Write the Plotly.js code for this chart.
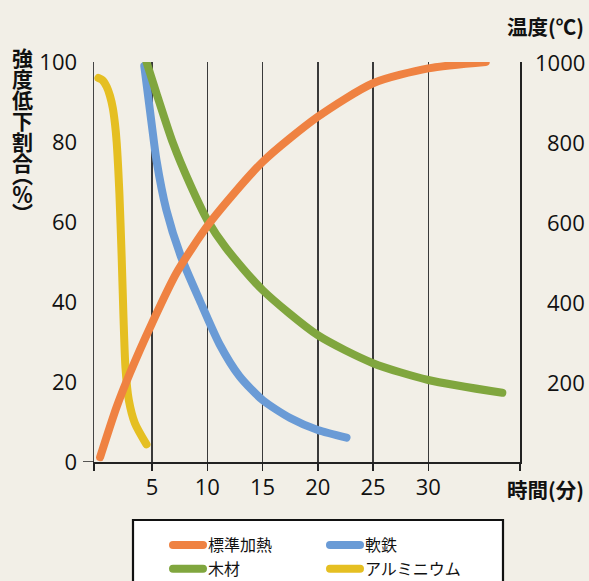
<!DOCTYPE html>
<html>
<head>
<meta charset="utf-8">
<script src="https://cdn.plot.ly/plotly-3.0.1.min.js"></script>
<style>
html,body{margin:0;padding:0;background:#f2efe7;}
#chart{width:589px;height:581px;}
.scatterlayer .js-line, .legend .js-line{stroke-linecap:round;stroke-linejoin:round;}
</style>
</head>
<body>
<div id="chart"></div>
<script>
// ---- data ----
const seriesNames = ['標準加熱', '軟鉄', '木材', 'アルミニウム'];

// 標準加熱 (temperature, ℃, right axis)
const tStd    = [0.3, 1.8, 3.0, 5.0, 7.2, 10.2, 15.0, 20.0, 25.0, 30.0, 35.2];
const tempStd = [12, 138, 222, 347, 472, 597, 750, 863, 947, 984, 1000];

// 軟鉄 (strength reduction %, left axis)
const tIron   = [4.3, 5.0, 5.4, 6.3, 7.6, 9.3, 11.1, 12.9, 15.0, 17.5, 20.0, 22.6];
const pctIron = [99, 83.8, 75.5, 63, 51.5, 40.5, 29.5, 21.5, 15.5, 11, 8, 6.1];

// 木材
const tWood   = [4.5, 5.4, 6.9, 8.4, 10.0, 11.7, 15.0, 20.0, 25.0, 30.0, 36.7];
const pctWood = [100, 92.2, 79.7, 69.7, 60.5, 53.5, 43, 31.7, 24.7, 20.5, 17.3];

// アルミニウム
const tAl   = [0.15, 0.5, 0.9, 1.2, 1.45, 1.65, 1.8, 2.05, 2.25, 2.42, 2.6, 2.9, 3.45, 4.5];
const pctAl = [96, 95.5, 93.8, 91.5, 88.5, 84.5, 80, 67, 51.5, 36, 23.5, 15.5, 9.7, 4.4];

// tick labels
const xTickVals  = [5, 10, 15, 20, 25, 30];
const xTickText  = ['5', '10', '15', '20', '25', '30'];
const yTickVals  = [0, 20, 40, 60, 80, 100];
const yTickText  = ['0', '20', '40', '60', '80', '100'];
const y2TickVals = [200, 400, 600, 800, 1000];
const y2TickText = ['200', '400', '600', '800', '1000'];

const leftTitle  = '強度低下割合（％）';
const rightTitle = '温度(℃)';
const xTitle     = '時間(分)';

// ---- styles ----
const colors = ['#ef8242', '#6a9bd6', '#80a63e', '#e5bf22'];
const FONT = '"Noto Sans CJK JP", "Noto Sans", sans-serif';
const NUMFONT = '"Open Sans", "Noto Sans", sans-serif';
const BG = '#f2efe7';
const W = 589, H = 581;
const M = {l: 94, r: 69, t: 62, b: 119};
const plotW = W - M.l - M.r, plotH = H - M.t - M.b;
const xRange = [-0.25, 38.3];
const px2x = function(px) { return (px - M.l) / plotW; };
const py2y = function(py) { return (H - M.b - py) / plotH; };

function lineTrace(x, y, i, yaxis) {
  return {
    type: 'scatter', mode: 'lines', x: x, y: y, name: seriesNames[i],
    yaxis: yaxis || 'y',
    line: {color: colors[i], width: 8, shape: 'spline', smoothing: 0.7},
    hoverinfo: 'skip'
  };
}

const traces = [
  lineTrace(tStd, tempStd, 0, 'y2'),
  lineTrace(tIron, pctIron, 1),
  lineTrace(tWood, pctWood, 2),
  lineTrace(tAl, pctAl, 3)
];

const annotations = [];
// left (vertical) title, turned into vertical writing after drawing
annotations.push({
  xref: 'paper', yref: 'paper', x: px2x(22), y: py2y(130.5),
  xanchor: 'center', yanchor: 'middle', showarrow: false, text: leftTitle,
  font: {family: FONT, size: 21, color: '#111', weight: 'bold'}
});

y2TickVals.forEach(function(v, k) {
  annotations.push({
    xref: 'paper', yref: 'y2', x: px2x(587), y: v,
    xanchor: 'right', yanchor: 'middle', showarrow: false,
    text: y2TickText[k],
    font: {family: NUMFONT, size: 22, color: '#111'}
  });
});

annotations.push({
  xref: 'paper', yref: 'paper', x: px2x(586), y: py2y(26),
  xanchor: 'right', yanchor: 'middle', showarrow: false, text: rightTitle,
  font: {family: FONT, size: 20.5, color: '#111', weight: 'bold'}
});
annotations.push({
  xref: 'paper', yref: 'paper', x: px2x(586), y: py2y(489),
  xanchor: 'right', yanchor: 'middle', showarrow: false, text: xTitle,
  font: {family: FONT, size: 20.5, color: '#111', weight: 'bold'}
});

const shapes = [
  // legend box
  {type: 'rect', xref: 'paper', yref: 'paper', layer: 'below',
   x0: px2x(133), x1: px2x(503), y0: py2y(520), y1: py2y(620),
   fillcolor: '#ffffff', line: {color: '#111', width: 2.2}},
  // small tick left of origin
  {type: 'line', xref: 'paper', yref: 'y', x0: px2x(83), x1: 0, y0: 0, y1: 0,
   line: {color: '#222', width: 1.5}}
];

const layout = {
  width: W, height: H,
  margin: {l: M.l, r: M.r, t: M.t, b: M.b, autoexpand: false},
  paper_bgcolor: BG, plot_bgcolor: BG,
  font: {family: FONT, color: '#111'},
  showlegend: true,
  legend: {
    orientation: 'h', xref: 'paper', yref: 'paper',
    x: px2x(168), xanchor: 'left',
    y: py2y(528), yanchor: 'top',
    entrywidth: 112, entrywidthmode: 'pixels',
    bgcolor: 'rgba(0,0,0,0)', borderwidth: 0,
    font: {family: FONT, size: 16, color: '#111'},
    tracegroupgap: 0
  },
  xaxis: {
    range: xRange, fixedrange: true,
    tickmode: 'array',
    tickvals: [xRange[0]].concat(xTickVals, [xRange[1]]),
    ticktext: [''].concat(xTickText, ['']),
    ticks: 'outside', ticklen: 7, tickwidth: 1.5, tickcolor: '#222',
    showgrid: true, gridcolor: '#3a3a3a', gridwidth: 1.5,
    showline: true, linecolor: '#222', linewidth: 1.5,
    zeroline: false,
    tickfont: {family: NUMFONT, size: 22, color: '#111'},
    ticklabelstandoff: -2
  },
  yaxis: {
    range: [0, 100], fixedrange: true,
    tickmode: 'array', tickvals: yTickVals, ticktext: yTickText,
    ticks: '', showgrid: false, zeroline: false,
    showline: true, linecolor: '#444', linewidth: 1.5,
    tickfont: {family: NUMFONT, size: 22, color: '#111'},
    ticklabelstandoff: 11
  },
  yaxis2: {
    range: [0, 1000], overlaying: 'y', side: 'right', fixedrange: true,
    tickmode: 'array', tickvals: y2TickVals, ticktext: y2TickText,
    showticklabels: false, ticks: '', showgrid: false, zeroline: false,
    showline: true, linecolor: '#222', linewidth: 1.5
  },
  annotations: annotations,
  shapes: shapes
};

Plotly.newPlot('chart', traces, layout, {displayModeBar: false, staticPlot: true}).then(function(gd) {
  // set the left title in vertical (tategaki) writing, centred where it was placed
  const nodes = gd.querySelectorAll('text.annotation-text');
  nodes.forEach(function(t) {
    if (t.textContent !== leftTitle) return;
    const r0 = t.getBoundingClientRect();
    const cx = r0.left + r0.width / 2, cy = r0.top + r0.height / 2;
    t.style.writingMode = 'vertical-rl';
    t.style.fontFeatureSettings = '"vpal" 1';
    t.setAttribute('text-anchor', 'middle');
    const r1 = t.getBoundingClientRect();
    const dx = cx - (r1.left + r1.width / 2), dy = cy - (r1.top + r1.height / 2);
    const prev = t.getAttribute('transform') || '';
    t.setAttribute('transform', prev + ' translate(' + dx + ',' + dy + ')');
  });
});
</script>
</body>
</html>
